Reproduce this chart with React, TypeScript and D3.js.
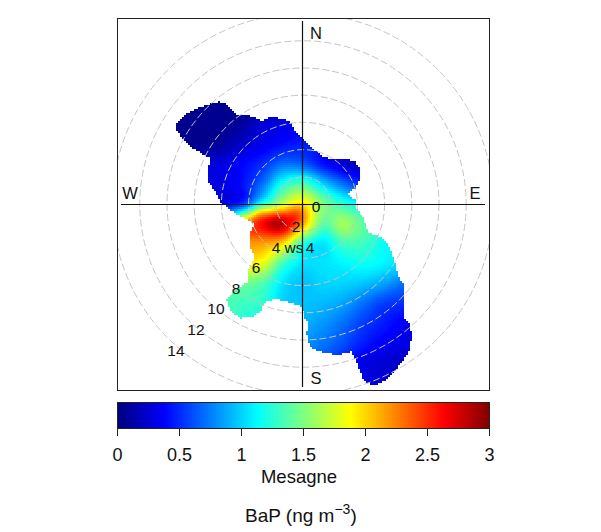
import React, { useMemo } from "react";
import * as d3 from "d3";

// Wind-speed rings and labels
const ringSpeeds = [2, 4, 6, 8, 10, 12, 14];
const speedLabels = [0, 2, 4, 6, 8, 10, 12, 14];
const keyTicks = [0, 0.5, 1, 1.5, 2, 2.5, 3];
const jetStops = ["#00007F", "blue", "#007FFF", "cyan", "#7FFF7F", "yellow", "#FF7F00", "red", "#7F0000"];

// BaP concentration sampled on a regular east/north grid (ws units), north to south
const gridStep = 1.47;
const gridEastStart = -10.29;
const gridNorthStart = 8.82;
const fieldRows = [
  [.05, .05, .05, .05, .05, .1, .2, .3, .4, .4, .3, .2, .2, .2],
  [.05, .05, .05, .05, .05, .1, .2, .3, .4, .4, .3, .2, .2, .2],
  [.05, .05, .05, .05, .1, .25, .3, .35, .4, .4, .3, .2, .2, .2],
  [.05, .05, .05, .1, .22, .32, .4, .45, .4, .3, .2, .2, .2, .2],
  [.1, .2, .25, .28, .38, .5, .7, .65, .42, .25, .18, .2, .2, .2],
  [.2, .25, .28, .3, .42, .72, 1.2, 1.35, 1.0, .7, .5, .5, .5, .5],
  [.3, .3, .3, .35, .55, 1.15, 1.7, 1.9, 1.5, 1.25, 1.1, 1.0, 1, 1],
  [.5, .5, .8, 1.2, 2.2, 2.5, 2.7, 2.1, 1.4, 1.6, 1.4, 1.3, 1.2, 1.2],
  [1, 1.5, 1.8, 2.0, 2.15, 2.15, 1.95, 1.25, 1.05, 1.3, 1.3, 1.15, 1.1, 1.1],
  [1.5, 1.6, 1.7, 1.8, 1.9, 1.8, 1.3, 1.05, 1.05, 1.1, 1.15, 1.1, 1, .9],
  [1.4, 1.4, 1.4, 1.4, 1.45, 1.35, 1.05, .95, 1, 1, .95, .85, .7, .6],
  [1.35, 1.35, 1.35, 1.35, 1.3, 1.25, 1, .95, .92, .85, .7, .55, .5, .45],
  [1.3, 1.3, 1.3, 1.3, 1.2, 1.1, 1, .9, .82, .7, .55, .45, .35, .3],
  [.8, .8, .8, .8, .8, .8, .8, .8, .72, .6, .45, .35, .3, .25],
  [.7, .7, .7, .7, .7, .7, .7, .7, .6, .45, .3, .25, .2, .2],
  [.7, .7, .7, .7, .7, .7, .7, .7, .6, .45, .3, .25, .2, .2],
];

// Narrow maxima the grid is too coarse to hold
const peakEast = [-2.06, -0.47, -3.16];
const peakNorth = [-1.13, -0.74, -0.69];
const peakExtra = [0.2, 0.22, 0.3];
const peakWidth = [0.55, 0.5, 0.5];

// Edge of the sampled wind conditions, in ws units
const edgeEast = [-9.29, -8.68, -7.82, -6.84, -6.23, -5.74, -5.25, -4.93, -4.39, -3.77, -3.04, -2.43, -1.45, -.83, -.59, -.02, .51, 1.0, 1.5, 2.23, 2.97, 3.82, 4.26, 4.19, 3.82, 3.33, 3.95, 3.95, 4.44, 4.8, 5.42, 6.15, 6.52, 6.89, 6.94, 7.5, 7.5, 7.38, 7.87, 7.99, 7.75, 7.01, 6.15, 5.17, 4.44, 4.07, 3.58, 2.48, 1.25, .51, .27, .39, .02, -.02, -.83, -2.06, -2.92, -3.04, -3.65, -4.63, -5.37, -5.61, -5.0, -4.02, -4.02, -3.53, -3.9, -3.95, -3.53, -4.26, -4.75, -5.37, -5.98, -6.47, -6.96, -6.96, -6.84, -7.45, -8.31, -8.99, -9.29];
const edgeNorth = [5.93, 6.54, 7.03, 7.35, 7.52, 7.4, 6.91, 6.54, 6.62, 6.42, 6.13, 6.37, 6.3, 5.93, 5.32, 4.75, 4.34, 3.85, 3.48, 3.24, 3.36, 3.11, 2.5, 1.76, 1.15, .78, .17, -.32, -1.05, -2.16, -2.28, -2.77, -3.63, -4.61, -5.22, -6.08, -6.81, -8.28, -8.77, -9.75, -10.98, -11.96, -12.94, -13.38, -12.94, -11.96, -10.86, -11.1, -10.86, -10.49, -9.51, -8.77, -8.28, -7.55, -7.3, -6.94, -7.3, -7.79, -8.28, -8.41, -7.79, -7.06, -6.32, -5.71, -4.85, -3.87, -3.14, -2.16, -1.42, -1.05, -.81, -.39, .05, .91, 1.64, 2.5, 3.36, 3.73, 4.22, 4.95, 5.44];

const FONT = "'Liberation Sans', Arial, sans-serif";
const box = { left: 117.5, right: 489.5, top: 18.5, bottom: 390.5 };
const keyBox = { top: 402.5, bottom: 428.5 };
const cx = 303;
const cy = 204;
const pxPerWs = 13.6;
const cell = 2;

const x = d3.scaleLinear().domain([0, 1]).range([cx, cx + pxPerWs]);
const y = d3.scaleLinear().domain([0, 1]).range([cy, cy - pxPerWs]);
const colour = d3.scaleLinear<string>()
  .domain(jetStops.map((_, i) => (i * 3) / (jetStops.length - 1)))
  .range(jetStops)
  .interpolate(d3.interpolateRgb)
  .clamp(true);
const keyX = d3.scaleLinear().domain([0, 3]).range([box.left, box.right]);

const cubic = (a: number, b: number, c: number, d: number, t: number) =>
  0.5 * (2 * b + (c - a) * t + (2 * a - 5 * b + 4 * c - d) * t * t + (3 * b - a - 3 * c + d) * t * t * t);

function fieldAt(e: number, n: number) {
  const gx = (e - gridEastStart) / gridStep;
  const gy = (gridNorthStart - n) / gridStep;
  const nr = fieldRows.length, nc = fieldRows[0].length;
  const ix = Math.floor(gx), iy = Math.floor(gy);
  const tx = gx - ix, ty = gy - iy;
  const at = (r: number, c: number) =>
    fieldRows[Math.max(0, Math.min(nr - 1, r))][Math.max(0, Math.min(nc - 1, c))];
  const rows = [-1, 0, 1, 2].map((dr) =>
    cubic(at(iy + dr, ix - 1), at(iy + dr, ix), at(iy + dr, ix + 1), at(iy + dr, ix + 2), tx)
  );
  let v = cubic(rows[0], rows[1], rows[2], rows[3], ty);
  peakEast.forEach((pe, i) => {
    const d2 = (e - pe) ** 2 + (n - peakNorth[i]) ** 2;
    v += peakExtra[i] * Math.exp(-d2 / (2 * peakWidth[i] ** 2));
  });
  return v;
}

function useCells() {
  return useMemo(() => {
    const polygon: [number, number][] = edgeEast.map((e, i) => [x(e), y(edgeNorth[i])]);
    const levels = 240;
    const paths: string[] = Array.from({ length: levels + 1 }, () => "");
    for (let py = 19; py < 390; py += cell) {
      for (let px = 118; px < 489; px += cell) {
        if (!d3.polygonContains(polygon, [px + cell / 2, py + cell / 2])) continue;
        const v = fieldAt(x.invert(px + cell / 2), y.invert(py + cell / 2));
        const k = Math.round((Math.max(0, Math.min(3, v)) / 3) * levels);
        paths[k] += `M${px} ${py}h${cell}v${cell}h${-cell}z`;
      }
    }
    return paths.map((d, k) => ({ d, fill: colour((k / levels) * 3) })).filter((p) => p.d);
  }, []);
}

export default function App() {
  const cells = useCells();
  const keySteps = d3.range(0, 186).map((i) => (i / 186) * 3);
  const labelText = { fontFamily: FONT, fill: "#111" };
  const angle = (225 * Math.PI) / 180;
  return (
    <svg width={601} height={532} style={{ position: "absolute", left: 0, top: 0, background: "#fff" }}>
      <defs>
        <clipPath id="plot">
          <rect x={box.left} y={box.top} width={box.right - box.left} height={box.bottom - box.top} />
        </clipPath>
      </defs>
      <g shapeRendering="crispEdges">
        {cells.map((c, i) => <path key={i} d={c.d} fill={c.fill} />)}
      </g>
      <g clipPath="url(#plot)">
        {ringSpeeds.map((s) => (
          <circle key={s} cx={x(0)} cy={y(0)} r={x(s) - x(0)} fill="none" stroke="#c4c4c4" strokeWidth={1} strokeDasharray="7 3" />
        ))}
      </g>
      <line x1={cx - 182} x2={cx + 182} y1={204.5} y2={204.5} stroke="#111" strokeWidth={1.2} />
      <line x1={302.5} x2={302.5} y1={cy - 183} y2={cy + 183} stroke="#111" strokeWidth={1.2} />
      <rect x={box.left} y={box.top} width={box.right - box.left} height={box.bottom - box.top} fill="none" stroke="#222" strokeWidth={1} />
      <g {...labelText} fontSize={16.5} textAnchor="middle">
        <text x={316} y={39}>N</text>
        <text x={316} y={384}>S</text>
        <text x={130} y={199}>W</text>
        <text x={475} y={199}>E</text>
      </g>
      <g {...labelText} fontSize={15.5} textAnchor="middle">
        {speedLabels.map((s) => {
          const px = x(s * Math.sin(angle) * 1.04) + 13;
          const py = y(s * Math.cos(angle) * 1.07) + 7.5;
          if (s === 4) {
            return (
              <g key={s}>
                <text x={px} y={py}>{s}</text>
                <text x={294} y={py}>ws</text>
                <text x={310} y={py}>{s}</text>
              </g>
            );
          }
          return <text key={s} x={px} y={py}>{s}</text>;
        })}
      </g>
      <g shapeRendering="crispEdges">
        {keySteps.map((v, i) => (
          <rect key={i} x={keyX(v)} y={keyBox.top} width={keyX(3 / 186) - keyX(0) + 0.6} height={keyBox.bottom - keyBox.top} fill={colour(v + 1.5 / 186)} />
        ))}
      </g>
      <rect x={box.left} y={keyBox.top} width={box.right - box.left} height={keyBox.bottom - keyBox.top} fill="none" stroke="#222" strokeWidth={1} />
      {keyTicks.map((t) => (
        <g key={t}>
          <line x1={keyX(t)} x2={keyX(t)} y1={428} y2={436} stroke="#222" strokeWidth={1} />
          <text x={keyX(t)} y={461} textAnchor="middle" fontSize={18} {...labelText}>{t}</text>
        </g>
      ))}
      <text x={299} y={483} textAnchor="middle" fontSize={18.5} {...labelText}>Mesagne</text>
      <text x={245} y={522} fontSize={19} {...labelText}>
        BaP (ng m
        <tspan dy={-8} fontSize={14}>−3</tspan>
        <tspan dy={8}>)</tspan>
      </text>
    </svg>
  );
}
